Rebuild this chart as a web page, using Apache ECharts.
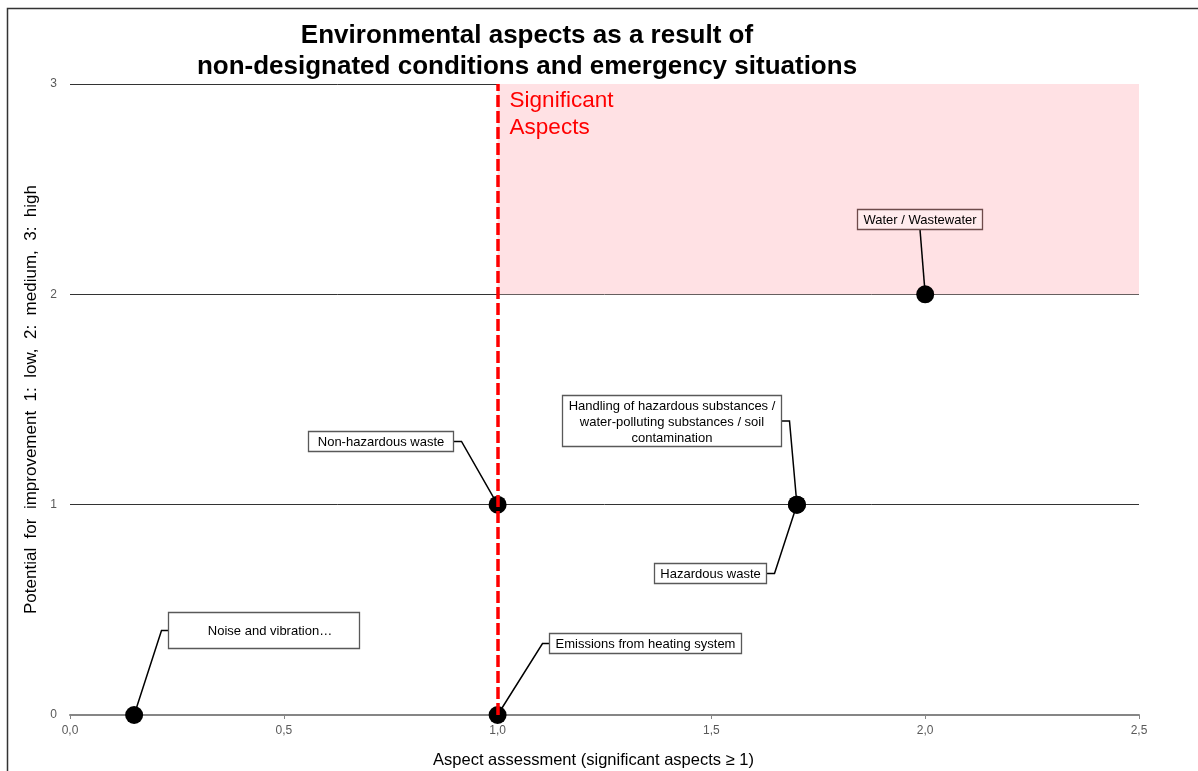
<!DOCTYPE html>
<html>
<head>
<meta charset="utf-8">
<script src="https://cdn.jsdelivr.net/npm/echarts@6/dist/echarts.min.js"></script>
<style>
html,body{margin:0;padding:0;background:#fff;}
#chart{width:1198px;height:771px;}
</style>
</head>
<body>
<div id="chart"></div>
<script>
// ---- data ----
const aspectNames = [
  'Noise and vibration…',
  'Emissions from heating system',
  'Non-hazardous waste',
  'Handling of hazardous substances /\nwater-polluting substances / soil\ncontamination',
  'Hazardous waste',
  'Water / Wastewater'
];
const aspectScores = [0.15, 1.0, 1.0, 1.7, 1.7, 2.0];          // x: aspect assessment
const improvementPotential = [0, 0, 1, 1, 1, 2];                // y: potential for improvement
const significanceThreshold = 1.0;
const significantZone = [[1.0, 2], [2.5, 3]];
const xRange = [0, 2.5];
const yRange = [0, 3];

// ---- label box styling (pixel offsets from each point) ----
const labelBoxes = [
  {dx: 34,   dy: -103, w: 191, h: 36, side: 'right', tdx: 6},
  {dx: 51,   dy: -82,  w: 192, h: 20, side: 'right', tdx: 0},
  {dx: -190, dy: -74,  w: 145, h: 20, side: 'left', tdx: 0},
  {dx: -235, dy: -110, w: 219, h: 51, side: 'left', tdx: 0},
  {dx: -143, dy: 58,   w: 112, h: 20, side: 'left', tdx: 0},
  {dx: -68,  dy: -85,  w: 125, h: 20, side: 'bottom', tdx: 0}
];

const points = aspectScores.map((x, i) => [x, improvementPotential[i]]);

const chart = echarts.init(document.getElementById('chart'));
const FONT = '"Liberation Sans", Arial, sans-serif';

chart.setOption({
  animation: false,
  backgroundColor: '#fff',
  textStyle: {fontFamily: FONT},
  title: {
    text: 'Environmental aspects as a result of\nnon-designated conditions and emergency situations',
    left: 522, top: 15, textAlign: 'center',
    textStyle: {fontFamily: FONT, fontSize: 26, fontWeight: 'bold', color: '#000', lineHeight: 31}
  },
  grid: {left: 70, right: 59, top: 84, bottom: 56, containLabel: false, outerBoundsMode: 'none'},
  xAxis: {
    type: 'value', min: xRange[0], max: xRange[1], interval: 0.5,
    name: 'Aspect assessment (significant aspects ≥ 1)',
    nameLocation: 'middle', nameGap: 37,
    nameTextStyle: {fontFamily: FONT, fontSize: 16.5, color: '#000', padding: [0, 22, 0, 0]},
    axisLine: {show: true, onZero: false, lineStyle: {color: '#868686', width: 2}},
    axisTick: {show: true, length: 4, lineStyle: {color: '#868686'}},
    axisLabel: {fontFamily: FONT, fontSize: 12, color: '#595959', margin: 10,
      formatter: v => v.toFixed(1).replace('.', ',')},
    splitLine: {show: false}
  },
  yAxis: {
    type: 'value', min: yRange[0], max: yRange[1], interval: 1,
    name: 'Potential  for  improvement  1:  low,  2:  medium,  3:  high',
    nameLocation: 'middle', nameGap: 28,
    nameTextStyle: {fontFamily: FONT, fontSize: 17, color: '#000'},
    axisLine: {show: false},
    axisTick: {show: false},
    axisLabel: {fontFamily: FONT, fontSize: 12, color: '#595959', margin: 13},
    splitLine: {show: true, lineStyle: {color: '#333', width: 1}}
  },
  graphic: [{
    type: 'polyline', silent: true,
    shape: {points: [[7.5, 771], [7.5, 8.5], [1198, 8.5]]},
    style: {stroke: '#333', lineWidth: 1.5, fill: null}
  }],
  series: [
    {
      type: 'scatter', z: 1, data: [],
      markArea: {
        silent: true,
        itemStyle: {color: '#FFE1E4'},
        label: {show: true, position: [12, 3],
          formatter: 'Significant\nAspects', color: '#FF0000', fontSize: 22.5, lineHeight: 27, fontFamily: FONT},
        data: [[{coord: significantZone[0]}, {coord: significantZone[1]}]]
      }
    },
    {
      type: 'custom', z: 3, clip: false,
      data: points,
      renderItem: function (params, api) {
        const i = params.dataIndex;
        const p = api.coord([api.value(0), api.value(1)]);
        const L = labelBoxes[i];
        const bx = Math.round(p[0] + L.dx) + 0.5, by = Math.round(p[1] + L.dy) + 0.5;
        let pts;
        if (L.side === 'left') {
          const ay = by + L.h / 2;
          pts = [p, [bx + L.w + 8, ay], [bx + L.w, ay]];
        } else if (L.side === 'right') {
          const ay = by + L.h / 2;
          pts = [p, [bx - 7, ay], [bx, ay]];
        } else {
          pts = [p, [bx + L.w / 2, by + L.h]];
        }
        const isPink = L.side === 'bottom';
        return {
          type: 'group',
          children: [
            {type: 'polyline', shape: {points: pts}, style: {stroke: '#000', lineWidth: 1.5, fill: null}},
            {type: 'rect', shape: {x: bx, y: by, width: L.w, height: L.h},
              style: {fill: isPink ? 'rgba(255,255,255,0.35)' : '#fff', stroke: isPink ? '#6E4B4B' : '#595959', lineWidth: 1.3}},
            {type: 'text', style: {text: aspectNames[i], x: bx + L.w / 2 + L.tdx, y: by + L.h / 2 + 1,
              align: 'center', verticalAlign: 'middle', fontFamily: FONT, fontSize: 13, lineHeight: 16, fill: '#000'}}
          ]
        };
      }
    },
    {
      type: 'scatter', z: 4,
      symbol: 'circle', symbolSize: 18,
      itemStyle: {color: '#000', opacity: 1},
      data: points
    },
    {
      type: 'scatter', z: 5, data: [],
      markLine: {
        silent: true, symbol: ['none', 'none'],
        label: {show: false},
        lineStyle: {color: '#FF0000', width: 3.5, type: [12, 4]},
        data: [{xAxis: significanceThreshold}]
      }
    }
  ]
});
</script>
</body>
</html>
